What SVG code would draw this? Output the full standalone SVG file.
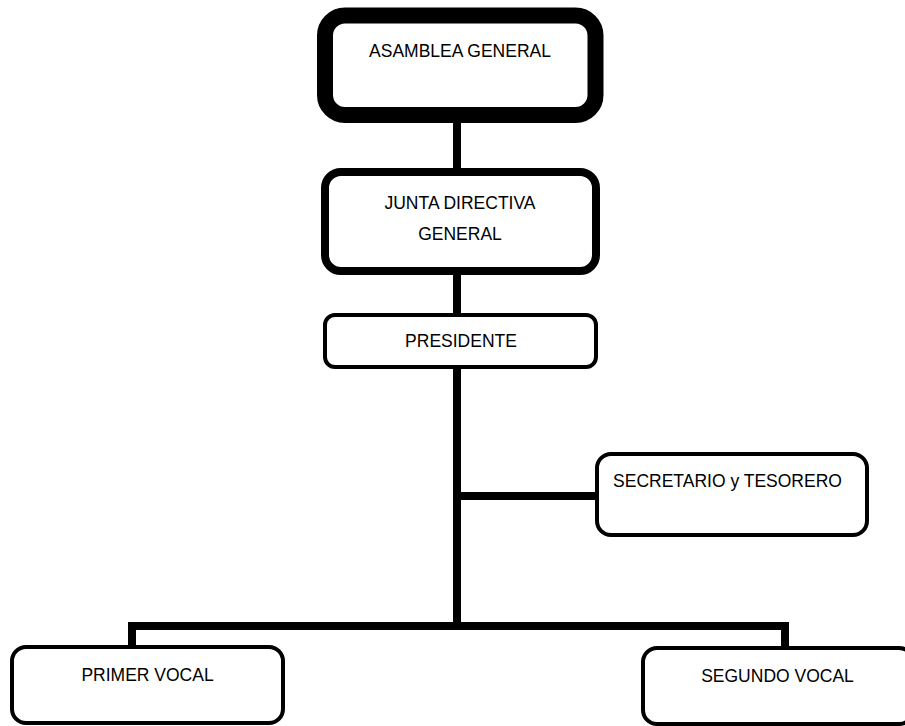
<svg xmlns="http://www.w3.org/2000/svg" width="905" height="726" viewBox="0 0 905 726">
<style>
.box{fill:#fff;stroke:#000}
.t{font-family:"Liberation Sans",Arial,sans-serif;font-size:17.5px;fill:#000;text-anchor:middle}
.c{fill:none;stroke:#000;stroke-width:8;stroke-linejoin:miter}
</style>
<rect width="905" height="726" fill="#fff"/>
<g id="connectors">
<path class="c" d="M457,120 V170"/>
<path class="c" d="M457,272 V316"/>
<path class="c" d="M457,366 V630"/>
<path class="c" d="M457,496 H598"/>
<path class="c" d="M132,647 V626 H785 V649" stroke-width="7"/>
</g>
<g id="asamblea">
<rect class="box" x="325" y="15.5" width="270.5" height="99.5" rx="20" stroke-width="16"/>
<text class="t" x="460" y="57">ASAMBLEA GENERAL</text>
</g>
<g id="junta">
<rect class="box" x="325" y="172" width="271" height="99" rx="16" stroke-width="8"/>
<text class="t" x="460" y="209">JUNTA DIRECTIVA</text>
<text class="t" x="460" y="240">GENERAL</text>
</g>
<g id="presidente">
<rect class="box" x="325" y="315" width="271" height="52" rx="10" stroke-width="4"/>
<text class="t" x="461" y="347">PRESIDENTE</text>
</g>
<g id="secretario">
<rect class="box" x="597" y="454" width="270" height="81" rx="14" stroke-width="4"/>
<text class="t" x="727.5" y="487">SECRETARIO y TESORERO</text>
</g>
<g id="primer">
<rect class="box" x="12" y="647" width="271" height="76" rx="14" stroke-width="4"/>
<text class="t" x="147.5" y="681">PRIMER VOCAL</text>
</g>
<g id="segundo">
<rect class="box" x="643" y="648" width="270" height="76" rx="14" stroke-width="4"/>
<text class="t" x="777.5" y="682">SEGUNDO VOCAL</text>
</g>
</svg>
